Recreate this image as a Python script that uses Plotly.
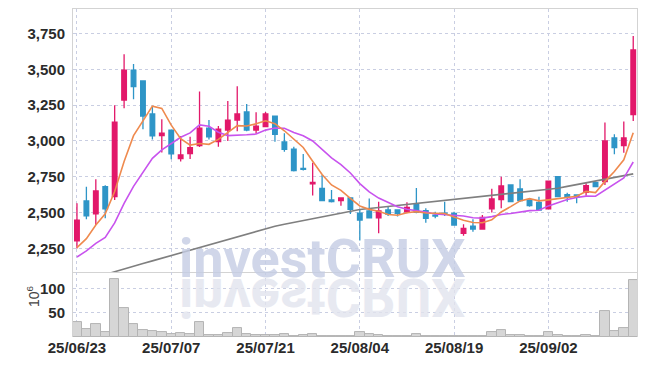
import pandas as pd
import plotly.graph_objects as go
from plotly.subplots import make_subplots

dates = [
    "2025-06-23", "2025-06-24", "2025-06-25", "2025-06-26", "2025-06-27", "2025-06-30",
    "2025-07-01", "2025-07-02", "2025-07-03", "2025-07-04", "2025-07-07", "2025-07-08",
    "2025-07-09", "2025-07-10", "2025-07-11", "2025-07-14", "2025-07-15", "2025-07-16",
    "2025-07-17", "2025-07-18", "2025-07-21", "2025-07-22", "2025-07-23", "2025-07-24",
    "2025-07-25", "2025-07-28", "2025-07-29", "2025-07-30", "2025-07-31", "2025-08-01",
    "2025-08-04", "2025-08-05", "2025-08-06", "2025-08-07", "2025-08-08", "2025-08-11",
    "2025-08-12", "2025-08-13", "2025-08-14", "2025-08-18", "2025-08-19", "2025-08-20",
    "2025-08-21", "2025-08-22", "2025-08-25", "2025-08-26", "2025-08-27", "2025-08-28",
    "2025-08-29", "2025-09-01", "2025-09-02", "2025-09-03", "2025-09-04", "2025-09-05",
    "2025-09-08", "2025-09-09", "2025-09-10", "2025-09-11", "2025-09-12", "2025-09-15",
]

open_ = [2302, 2581, 2492, 2681, 2611, 3286, 3495, 3419, 3188, 3037,
         3076, 2876, 2912, 2967, 3090, 2995, 3076, 3146, 3202, 3076,
         3100, 3174, 2993, 2942, 2809, 2700, 2669, 2588, 2583, 2602,
         2497, 2511, 2464, 2518, 2518, 2506, 2555, 2513, 2483, 2497,
         2495, 2355, 2406, 2385, 2527, 2590, 2693, 2665, 2588, 2572,
         2527, 2751, 2625, 2623, 2641, 2709, 2716, 3021, 2967, 3184]
high = [2565, 2681, 2732, 2690, 3249, 3605, 3537, 3419, 3239, 3152,
        3080, 3035, 3030, 3345, 3146, 3104, 3279, 3381, 3258, 3200,
        3202, 3175, 3053, 2960, 2909, 2848, 2762, 2658, 2604, 2604,
        2518, 2599, 2576, 2541, 2520, 2572, 2672, 2530, 2506, 2576,
        2506, 2418, 2453, 2483, 2667, 2751, 2697, 2732, 2593, 2611,
        2722, 2753, 2639, 2625, 2704, 2716, 3128, 3046, 3135, 3733]
low = [2250, 2453, 2413, 2460, 2588, 3228, 3291, 3081, 3011, 2920,
       2872, 2857, 2874, 2958, 3010, 2960, 3000, 3068, 3068, 3050,
       3095, 2995, 2925, 2786, 2793, 2620, 2579, 2570, 2548, 2490,
       2305, 2460, 2355, 2476, 2472, 2495, 2495, 2430, 2460, 2476,
       2409, 2339, 2367, 2383, 2500, 2530, 2572, 2576, 2541, 2513,
       2525, 2609, 2576, 2565, 2618, 2681, 2693, 2907, 2918, 3139]
close = [2448, 2478, 2651, 2527, 3132, 3495, 3379, 3174, 3035, 3055,
         2910, 2902, 2953, 3090, 3028, 3083, 3146, 3188, 3076, 3104,
         3188, 3046, 2942, 2793, 2802, 2711, 2583, 2576, 2602, 2523,
         2448, 2464, 2511, 2490, 2495, 2537, 2502, 2460, 2476, 2492,
         2413, 2390, 2385, 2467, 2595, 2686, 2576, 2583, 2548, 2518,
         2720, 2611, 2611, 2609, 2688, 2681, 3000, 2953, 3021, 3635]

# volume in millions of shares
volume = [31, 17, 27, 9.5, 121, 61, 27, 15, 13, 11,
          7, 9, 7, 31, 5, 5, 9, 19, 7, 5,
          5, 5, 7, 3, 5, 7, 3, 3, 3, 3,
          11, 7, 5, 3, 3, 3, 7, 3, 1.5, 3,
          3, 3, 1.5, 3, 11, 15, 5, 5, 3, 3,
          11, 5, 3, 3, 5, 3, 53, 13, 18, 118]

# moving averages: early values (that depend on earlier history)
ma5_head = [2255, 2318, 2413, 2492]
ma10_head = [2190, 2233, 2285, 2326, 2428, 2565, 2683, 2785, 2879]
ma60 = [2010, 2030, 2050, 2068, 2087, 2107, 2126, 2145, 2163, 2182,
        2200, 2219, 2238, 2257, 2276, 2295, 2314, 2333, 2352, 2372,
        2390, 2405, 2419, 2432, 2445, 2458, 2471, 2484, 2497, 2510,
        2522, 2529, 2536, 2543, 2549, 2556, 2562, 2569, 2576, 2582,
        2589, 2596, 2602, 2609, 2616, 2623, 2630, 2637, 2644, 2651,
        2658, 2670, 2683, 2696, 2709, 2722, 2735, 2748, 2761, 2770]

vol_ticks = [50, 100]
price_ticks = [2250, 2500, 2750, 3000, 3250, 3500, 3750]
tick_idx = [0, 10, 20, 30, 40, 50]

cs = pd.Series(close, dtype=float)
ma5 = cs.rolling(5).mean().tolist()
ma5[:len(ma5_head)] = ma5_head
ma10 = cs.rolling(10).mean().tolist()
ma10[:len(ma10_head)] = ma10_head

UP = "#E2186A"
DOWN = "#2E95C7"
GRID = "#C9CEE2"
FONT = "Liberation Sans Narrow, Liberation Sans, sans-serif"

fig = make_subplots(rows=2, cols=1, shared_xaxes=True, vertical_spacing=0,
                    row_heights=[0.802, 0.198])

fig.add_trace(go.Candlestick(
    x=dates, open=open_, high=high, low=low, close=close,
    increasing=dict(line=dict(color=UP, width=1.3), fillcolor=UP),
    decreasing=dict(line=dict(color=DOWN, width=1.3), fillcolor=DOWN),
    whiskerwidth=0, hoverinfo="skip", showlegend=False), row=1, col=1)

fig.add_trace(go.Scatter(x=dates, y=ma60, mode="lines",
                         line=dict(color="#7F7F7F", width=1.6), hoverinfo="skip",
                         showlegend=False), row=1, col=1)
fig.add_trace(go.Scatter(x=dates, y=ma10, mode="lines",
                         line=dict(color="#C853EE", width=1.6), hoverinfo="skip",
                         showlegend=False), row=1, col=1)
fig.add_trace(go.Scatter(x=dates, y=ma5, mode="lines",
                         line=dict(color="#EF8A4E", width=1.6), hoverinfo="skip",
                         showlegend=False), row=1, col=1)

fig.add_trace(go.Bar(x=dates, y=volume, marker=dict(color="#D6D6D6",
                     line=dict(color="#B4B4B4", width=1)),
                     hoverinfo="skip", showlegend=False), row=2, col=1)

tickfont = dict(family=FONT, size=15, color="#2B2B2B", weight="bold")
xr = [-0.42, 59.4]
fig.update_xaxes(type="category", range=xr, tickvals=[dates[i] for i in tick_idx],
                 ticktext=[pd.Timestamp(dates[i]).strftime("%y/%m/%d") for i in tick_idx],
                 showgrid=True, gridcolor=GRID, griddash="dot", gridwidth=1,
                 tickfont=tickfont, ticks="", zeroline=False,
                 rangeslider_visible=False)
fig.update_xaxes(showticklabels=False, showline=True, mirror=True,
                 linecolor="#D3D3D3", linewidth=1, row=1, col=1)
fig.update_xaxes(showline=False, row=2, col=1)

fig.update_yaxes(range=[2085, 3921], tickvals=price_ticks, tickformat=",",
                 showgrid=True, gridcolor=GRID, griddash="dot", gridwidth=1,
                 tickfont=tickfont, zeroline=False, showline=True, mirror=True,
                 linecolor="#D3D3D3", linewidth=1, ticklabelstandoff=4,
                 row=1, col=1)
fig.update_yaxes(range=[0, 135], tickvals=vol_ticks,
                 showgrid=True, gridcolor=GRID, griddash="dot", gridwidth=1,
                 tickfont=tickfont, zeroline=False, showline=True, mirror=True,
                 linecolor="#D3D3D3", linewidth=1, ticklabelstandoff=4,
                 row=2, col=1)

# volume unit label (rotated, left of the volume panel)
fig.add_annotation(text="10<sup>6</sup>", xref="paper", yref="paper",
                   x=-0.0709, y=0.125, xanchor="center", yanchor="middle",
                   textangle=-90, showarrow=False,
                   font=dict(family="Liberation Sans, sans-serif", size=14, color="#444"))

# watermark and its reflection
fig.add_annotation(text="<b>investCRUX</b>", xref="paper", yref="paper",
                   x=0.442, y=0.24, xanchor="center", yanchor="middle",
                   showarrow=False, font=dict(family="Roboto", size=54, color="#C5CDE4"),
                   opacity=0.8)
fig.add_annotation(text="<b>investCRUX</b>", xref="paper", yref="paper",
                   x=0.442, y=0.12, xanchor="center", yanchor="middle",
                   showarrow=False, font=dict(family="Roboto", size=54, color="#E2E4EE"),
                   opacity=0.8)

fig.update_layout(width=647, height=366, margin=dict(l=73, r=10, t=9, b=29),
                  paper_bgcolor="white", plot_bgcolor="white", bargap=0,
                  showlegend=False, font=dict(family=FONT))

post = """
document.body.style.margin = '0';
document.body.style.padding = '0';
var gd = document.getElementById('{plot_id}');
function flipRefl(){
  var anns = gd.querySelectorAll('g.annotation');
  if (anns.length > 2) {
    var g = anns[2];
    g.style.transformBox = 'fill-box';
    g.style.transformOrigin = '50% 50%';
    g.style.transform = 'scaleY(-1)';
  }
}
flipRefl();
gd.on && gd.on('plotly_afterplot', flipRefl);
"""

fig.write_html("out.html", post_script=post, config={"displayModeBar": False})
